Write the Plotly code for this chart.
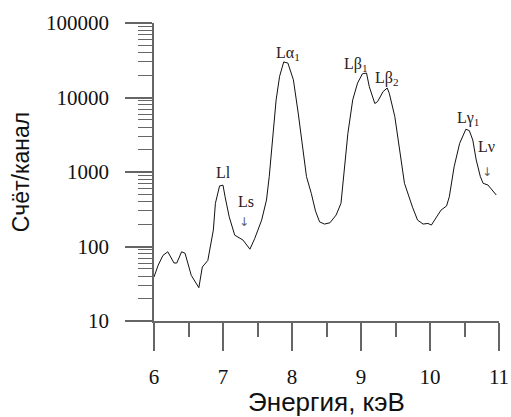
import plotly.graph_objects as go
import math

energy_kev = [6.00, 6.06, 6.13, 6.20, 6.29, 6.33, 6.40, 6.45, 6.54, 6.65, 6.70, 6.78,
              6.86, 6.89, 6.95, 7.00, 7.03, 7.09, 7.17, 7.24, 7.29, 7.39, 7.46, 7.56,
              7.63, 7.67, 7.72, 7.77, 7.82, 7.88, 7.94, 8.02, 8.09, 8.16, 8.21, 8.28,
              8.34, 8.40, 8.47, 8.55, 8.64, 8.71, 8.74, 8.81, 8.88, 8.95, 9.02, 9.08,
              9.12, 9.20, 9.24, 9.32, 9.38, 9.41, 9.49, 9.56, 9.63, 9.75, 9.82, 9.90,
              9.97, 10.02, 10.09, 10.16, 10.24, 10.28, 10.35, 10.43, 10.52, 10.57, 10.62,
              10.67, 10.73, 10.77, 10.84, 10.96]
counts = [39, 56, 76, 85, 60, 60, 85, 81, 41, 28, 53, 65,
          166, 380, 650, 665, 466, 250, 142, 128, 122, 92, 128, 226,
          420, 865, 3000, 9300, 19200, 30000, 29000, 17300, 6170, 1980, 865, 515,
          300, 214, 200, 208, 265, 380, 780, 3300, 9300, 15600, 20800, 21300,
          14000, 8300, 8800, 12000, 13400, 11400, 5550, 1980, 705, 330, 226, 200,
          204, 194, 250, 308, 350, 466, 1180, 2430, 3750, 3590, 2690,
          1450, 865, 705, 669, 491]

peak_labels = ["Ll", "Ls", "Lα<sub>1</sub>", "Lβ<sub>1</sub>", "Lβ<sub>2</sub>", "Lγ<sub>1</sub>", "Lν"]
peak_label_x = [7.00, 7.33, 7.94, 8.93, 9.37, 10.55, 10.82]
peak_label_y = [980, 400, 39500, 28100, 18200, 5250, 2190]
arrow_x = [7.30, 10.83]
arrow_y = [214, 1000]

x_ticks = [6, 7, 8, 9, 10, 11]
x_minor = [6.5, 7.5, 8.5, 9.5, 10.5]
y_ticks = [10, 100, 1000, 10000, 100000]
y_tick_text = ["10", "100", "1000", "10000", "100000"]
y_minor = [m * 10 ** d for d in range(1, 5) for m in range(2, 10)]

fig = go.Figure()
fig.add_trace(go.Scatter(x=energy_kev, y=counts, mode="lines",
                         line=dict(color="#111111", width=1), showlegend=False,
                         hoverinfo="skip"))

for lx, ly, lt in zip(peak_label_x, peak_label_y, peak_labels):
    fig.add_annotation(x=lx, y=math.log10(ly), text=lt, showarrow=False,
                       font=dict(family="Liberation Serif", size=16, color="#2a2020"))
for ax_, ay_ in zip(arrow_x, arrow_y):
    fig.add_annotation(x=ax_, y=math.log10(ay_), text="↓", showarrow=False,
                       font=dict(family="DejaVu Sans", size=12, color="#5a6070"))

axis_col = "#666666"
fig.update_layout(
    width=511, height=417,
    margin=dict(l=154, r=12, t=23, b=96),
    paper_bgcolor="white", plot_bgcolor="white",
    xaxis=dict(range=[6, 11], tickvals=x_ticks, ticktext=[str(v) for v in x_ticks],
               automargin=False,
               showgrid=False, zeroline=False, showline=True, linecolor=axis_col,
               linewidth=1.5, ticks="outside", ticklen=28, tickwidth=1.5,
               tickcolor=axis_col, ticklabelstandoff=8,
               tickfont=dict(family="Liberation Serif", size=21, color="#111111"),
               minor=dict(tickvals=x_minor, ticks="outside", ticklen=14,
                          tickwidth=1.5, tickcolor=axis_col),
               title=dict(text="Энергия, кэВ", standoff=0,
                          font=dict(family="Liberation Sans", size=26, color="#111111"))),
    yaxis=dict(type="log", range=[1, 5], tickvals=y_ticks, ticktext=y_tick_text,
               automargin=False,
               showgrid=False, zeroline=False, showline=True, linecolor=axis_col,
               linewidth=1.5, ticks="outside", ticklen=27, tickwidth=1.5,
               tickcolor=axis_col, ticklabelstandoff=12,
               tickfont=dict(family="Liberation Serif", size=21, color="#111111"),
               minor=dict(tickvals=y_minor, ticks="outside", ticklen=14,
                          tickwidth=1.2, tickcolor=axis_col),
               title=dict(text="Счёт/канал", standoff=10,
                          font=dict(family="Liberation Sans", size=23, color="#111111"))),
)

fig.write_html("out.html", config={"displayModeBar": False},
               post_script="document.body.style.margin='0';")
